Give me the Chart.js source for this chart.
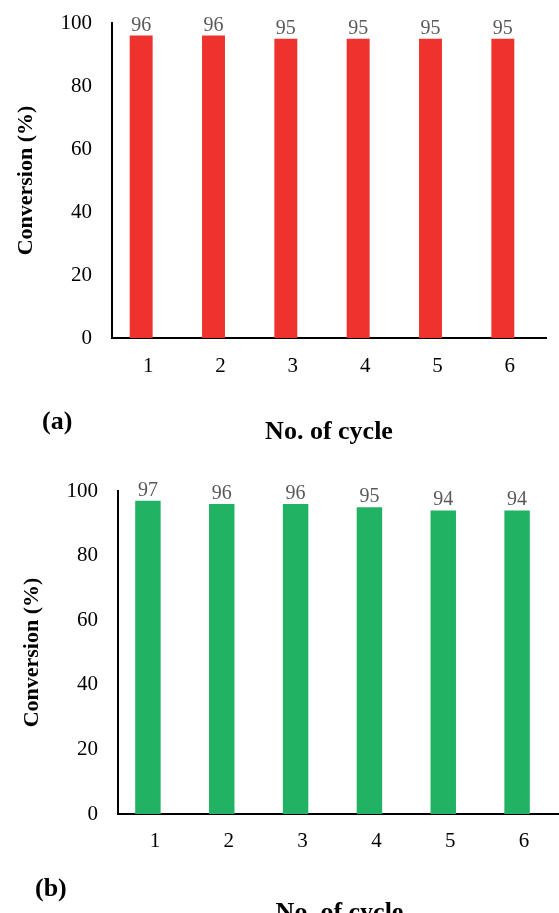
<!DOCTYPE html>
<html>
<head>
<meta charset="utf-8">
<script src="https://cdn.jsdelivr.net/npm/chart.js@4"></script>
<style>
    html, body {
        margin: 0;
        padding: 0;
        background: #ffffff;
        overflow: hidden;
        width: 559px;
        height: 913px;
    }
    .chart-box {
        position: absolute;
        left: 0;
    }
    .panel-label {
        position: absolute;
        font-family: "Liberation Serif", "Times New Roman", serif;
        font-weight: bold;
        font-size: 26px;
        line-height: 26px;
        color: #000;
    }
</style>
</head>
<body>
<div class="chart-box" style="top:0;width:559px;height:460px;"><canvas id="chartA"></canvas></div>
<div class="chart-box" style="top:460px;width:565px;height:480px;"><canvas id="chartB"></canvas></div>
<div class="panel-label" style="left:42px;top:408px;">(a)</div>
<div class="panel-label" style="left:35px;top:875px;">(b)</div>

<script>
// data
const cycles = ["1", "2", "3", "4", "5", "6"];
const conversionA = [96, 96, 95, 95, 95, 95];
const conversionB = [97, 96, 96, 95, 94, 94];
const yTicks = [0, 20, 40, 60, 80, 100];

const FONT_FAMILY = '"Liberation Serif", "Times New Roman", serif';
const RED = '#EE332E';
const GREEN = '#21B363';
const LABEL_GREY = '#595959';

// draws the value above each bar of the first dataset
const valueLabels = {
    id: 'valueLabels',
    afterDatasetsDraw(chart) {
        const ctx = chart.ctx;
        const meta = chart.getDatasetMeta(0);
        const values = chart.data.datasets[0].data;
        ctx.save();
        ctx.font = '20px ' + FONT_FAMILY;
        ctx.fillStyle = LABEL_GREY;
        ctx.textAlign = 'center';
        ctx.textBaseline = 'alphabetic';
        meta.data.forEach((bar, i) => {
            ctx.fillText(String(values[i]), bar.x, bar.y - 5);
        });
        ctx.restore();
    }
};

function makeChart(canvasId, values, color, box) {
    const ctx = document.getElementById(canvasId).getContext('2d');

    return new Chart(ctx, {
        type: 'bar',
        data: {
            labels: cycles,
            datasets: [
                {
                    data: values,
                    backgroundColor: color,
                    borderWidth: 0,
                    categoryPercentage: box.catPct,
                    barPercentage: box.barPct,
                },
                {
                    // empty second series, it keeps the bars left of the tick like the original sheet
                    data: [],
                    backgroundColor: color,
                    categoryPercentage: box.catPct,
                    barPercentage: box.barPct,
                }
            ]
        },
        options: {
            responsive: true,
            maintainAspectRatio: false,
            animation: false,
            events: [],
            layout: {
                padding: {top: box.padTop, right: box.padRight, left: 0, bottom: 0}
            },
            plugins: {
                legend: {display: false},
                tooltip: {enabled: false}
            },
            scales: {
                x: {
                    offset: true,
                    grid: {display: false, drawTicks: false},
                    border: {display: true, color: '#000', width: 2},
                    ticks: {
                        color: '#000',
                        padding: box.xTickPad,
                        font: {family: FONT_FAMILY, size: 21}
                    },
                    title: {
                        display: true,
                        text: 'No. of cycle',
                        color: '#000',
                        padding: {top: 0, bottom: box.xTitlePad},
                        font: {family: FONT_FAMILY, size: 26, weight: 'bold'}
                    },
                    afterFit(scale) {
                        scale.height = box.xHeight;
                        scale.paddingLeft = 0;
                        scale.paddingRight = 0;
                    }
                },
                y: {
                    min: 0,
                    max: 100,
                    afterBuildTicks(scale) {
                        scale.ticks = yTicks.map(v => ({value: v}));
                    },
                    grid: {display: false, drawTicks: false},
                    border: {display: true, color: '#000', width: 2},
                    ticks: {
                        color: '#000',
                        padding: 20,
                        font: {family: FONT_FAMILY, size: 21}
                    },
                    title: {
                        display: true,
                        text: 'Conversion (%)',
                        color: '#000',
                        padding: {top: box.yTitlePad, bottom: 0},
                        font: {family: FONT_FAMILY, size: 22, weight: 'bold'}
                    },
                    afterFit(scale) {
                        scale.width = box.yWidth;
                        scale.paddingTop = 0;
                        scale.paddingBottom = 0;
                    }
                }
            }
        },
        plugins: [valueLabels]
    });
}

makeChart('chartA', conversionA, RED, {
    padTop: 23, padRight: 13, xHeight: 122, yWidth: 112,
    catPct: 0.387, barPct: 1.64,
    xTickPad: 16, xTitlePad: 12, yTitlePad: 13
});

makeChart('chartB', conversionB, GREEN, {
    padTop: 31, padRight: 4, xHeight: 126, yWidth: 118,
    catPct: 0.379, barPct: 1.82,
    xTickPad: 15, xTitlePad: 11, yTitlePad: 19
});
</script>
</body>
</html>
